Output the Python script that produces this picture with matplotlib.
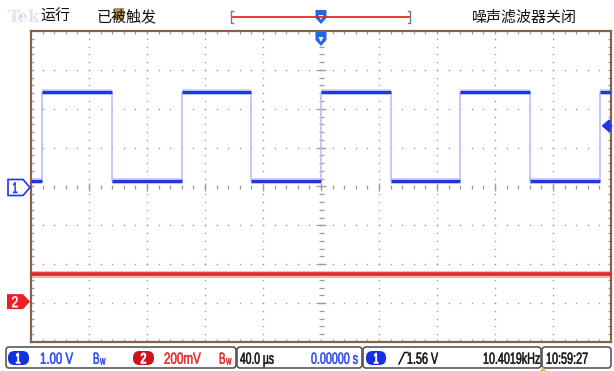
import numpy as np
import matplotlib
matplotlib.use("Agg")
import matplotlib.pyplot as plt
from matplotlib.patches import FancyBboxPatch, Polygon, Rectangle
from matplotlib.patheffects import AbstractPathEffect
from matplotlib.transforms import Affine2D

# ---- acquisition data -------------------------------------------------------
# horizontal: 40 us/div, 10 divisions, trigger at centre (t = 0)
time_per_div_us = 40.0
edge_times_us = [-192.3, -144.2, -96.1, -48.1, 0.0, 48.1, 96.1, 144.2, 192.3]
# channel 1 level of each segment between edges (V), starting before the first edge
ch1_levels_v = [0.15, 2.42, 0.15, 2.42, 0.15, 2.42, 0.15, 2.42, 0.15, 2.42]
ch1_volts_per_div = 1.00
ch1_offset_div = 0.0
# channel 2 is a flat level
ch2_level_v = 0.15
ch2_volts_per_div = 0.200
ch2_offset_div = -3.0
trigger_level_v = 1.56

# readouts
ch1_scale_txt = "1.00 V"
ch2_scale_txt = "200mV"
timebase_txt = "40.0 µs"
position_txt = "0.00000 s"
trig_txt = "1.56 V"
freq_txt = "10.4019kHz"
clock_txt = "10:59:27"
status_run = "运行"
status_trig = "已被触发"
status_filter = "噪声滤波器关闭"

W, H = 614, 371
CJK = ["Noto Sans CJK SC", "DejaVu Sans"]
READOUT = ["Liberation Sans", "DejaVu Sans"]

BLUE = "#1f35e6"
BLUE_TXT = "#2a48e8"
RED = "#e8262a"
FRAME = "#8a6246"
DOT = "#9c9c9c"

fig = plt.figure(figsize=(W / 100, H / 100), dpi=100)
fig.patch.set_facecolor("white")

# graticule axes (frame 31..611 x 31..342 px)
L, T, R, B = 31, 31, 611, 342
ax = fig.add_axes([L / W, 1 - B / H, (R - L) / W, (B - T) / H])
ax.set_xlim(-5 * time_per_div_us, 5 * time_per_div_us)
ax.set_ylim(-4, 4)
ax.set_xticks([]); ax.set_yticks([])
for s in ax.spines.values():
    s.set_color(FRAME)
    s.set_linewidth(1.6)
ax.set_facecolor("white")

# overlay for the status lines (pixel coordinates, y downwards)
ui = fig.add_axes([0, 0, 1, 1], zorder=5)
ui.set_xlim(0, W); ui.set_ylim(H, 0)
ui.axis("off")
ui.patch.set_alpha(0)


class TallGlyphs(AbstractPathEffect):
    """Stretch glyphs vertically about the baseline (display px) and embolden slightly."""

    def __init__(self, y_anchor, sy, lw=0.4):
        super().__init__()
        self._stretch = Affine2D().translate(0, -y_anchor).scale(1, sy).translate(0, y_anchor)
        self._lw = lw

    def draw_path(self, renderer, gc, tpath, affine, rgbFace=None):
        aff = affine + self._stretch
        if self._lw and rgbFace is not None:
            gc0 = renderer.new_gc()
            gc0.copy_properties(gc)
            gc0.set_linewidth(self._lw)
            gc0.set_foreground(rgbFace, isRGBA=len(rgbFace) == 4)
            renderer.draw_path(gc0, tpath, aff, rgbFace)
            gc0.restore()
        else:
            renderer.draw_path(gc, tpath, aff, rgbFace)


renderer = fig.canvas.get_renderer()
PX_PER_PT = 100 / 72
DIGIT_H = 0.716  # digit height of the readout face, in em


def readout(s, x0, x1, yc, cap, color, lw=0.4):
    """Readout text spanning x0..x1 px with digit height `cap` px, centred on yc."""
    base = yc + cap / 2
    t = ui.text(x0, base, s, fontsize=10, family=READOUT, color=color,
                ha="left", va="baseline", zorder=7)
    w10 = t.get_window_extent(renderer).width
    size = 10 * (x1 - x0) / max(w10, 1e-6)
    t.set_fontsize(size)
    sy = cap / (DIGIT_H * size * PX_PER_PT)
    y_disp = ui.transData.transform((x0, base))[1]
    t.set_path_effects([TallGlyphs(y_disp, sy, lw)])
    return t


xmin, xmax = ax.get_xlim()
minor_x = np.arange(xmin, xmax + 1e-6, time_per_div_us / 5)
minor_y = np.arange(-4, 4 + 1e-6, 0.2)

# dotted grid lines
for k in range(1, 10):
    if k == 5:
        continue
    xv = xmin + k * time_per_div_us
    ax.plot(np.full_like(minor_y[1:-1], xv), minor_y[1:-1], ls="none",
            marker="s", ms=1.0, mec="none", mfc=DOT, zorder=1)
for m in range(1, 8):
    if m == 4:
        continue
    yv = -4 + m
    ax.plot(minor_x[1:-1], np.full_like(minor_x[1:-1], yv), ls="none",
            marker="s", ms=1.0, mec="none", mfc=DOT, zorder=1)

# centre cross with tick marks
rem_x = np.mod(minor_x - xmin, time_per_div_us)
is_major_x = np.isclose(rem_x, 0) | np.isclose(rem_x, time_per_div_us)
rem_y = np.mod(minor_y + 4, 1.0)
is_major_y = np.isclose(rem_y, 0) | np.isclose(rem_y, 1.0)
ax.plot(minor_x[1:-1], np.zeros(len(minor_x) - 2), ls="none", marker="|",
        ms=3.0, mew=0.9, color=DOT, zorder=1)
ax.plot(np.zeros(len(minor_y) - 2), minor_y[1:-1], ls="none", marker="_",
        ms=3.6, mew=0.9, color=DOT, zorder=1)
ax.plot(minor_x[is_major_x][1:-1], np.zeros(is_major_x.sum() - 2), ls="none",
        marker="|", ms=6.0, mew=0.9, color=DOT, zorder=1)
ax.plot(np.zeros(is_major_y.sum() - 2), minor_y[is_major_y][1:-1], ls="none",
        marker="_", ms=6.5, mew=0.9, color=DOT, zorder=1)

# ticks along the frame edges
for yy in (4, -4):
    ax.plot(minor_x[1:-1], np.full(len(minor_x) - 2, yy), ls="none", marker="|",
            ms=4.5, mew=0.9, color=DOT, zorder=1)
for xx in (xmin, xmax):
    ax.plot(np.full(len(minor_y) - 2, xx), minor_y[1:-1], ls="none", marker="_",
            ms=5.0, mew=0.9, color=DOT, zorder=1)

# ---- channel 1 trace ----
bounds = [xmin] + edge_times_us + [xmax]
ch1_div = [v / ch1_volts_per_div + ch1_offset_div for v in ch1_levels_v]
for i, lev in enumerate(ch1_div):
    ax.hlines(lev, bounds[i], bounds[i + 1], color="#c9d0fa", lw=4.2, zorder=2)
    ax.hlines(lev, bounds[i], bounds[i + 1], color=BLUE, lw=2.3, zorder=3)
for i, t in enumerate(edge_times_us):
    lo, hi = sorted((ch1_div[i], ch1_div[i + 1]))
    ax.vlines(t, lo, hi, color="#b4bcf6", lw=1.1, zorder=2)

# ---- channel 2 trace ----
ch2_div = ch2_level_v / ch2_volts_per_div + ch2_offset_div
ax.hlines(ch2_div, xmin, xmax, color="#f6b4b4", lw=5.0, zorder=2)
ax.hlines(ch2_div, xmin, xmax, color=RED, lw=2.6, zorder=3)

# ---- trigger level arrow (right edge) ----
trig_div = trigger_level_v / ch1_volts_per_div + ch1_offset_div
ax.annotate("", xy=(xmax - 6.5, trig_div), xytext=(xmax, trig_div),
            arrowprops=dict(arrowstyle="-|>,head_length=0.4,head_width=0.35",
                            color=BLUE, lw=2.0, shrinkA=0, shrinkB=0),
            annotation_clip=False, zorder=6)

fig.canvas.draw()


def to_px(x, y):
    dx, dy = ax.transData.transform((x, y))
    return dx, H - dy


# ---- channel ground markers ----
_, g1 = to_px(0, ch1_offset_div)
g1 += 1.0
ui.add_patch(Polygon([(8, g1 - 8), (23, g1 - 8), (30, g1), (23, g1 + 8), (8, g1 + 8)],
                     closed=True, fc="white", ec=BLUE, lw=1.2))
readout("1", 12.5, 17.5, g1, 11, BLUE)
_, g2 = to_px(0, ch2_offset_div)
g2 -= 1.5
ui.add_patch(Polygon([(7, g2 - 7.5), (23, g2 - 7.5), (30, g2), (23, g2 + 7.5), (7, g2 + 7.5)],
                     closed=True, fc="#ee1c24", ec="none"))
readout("2", 11.5, 18.5, g2, 11, "white")

# ---- trigger position markers (top) ----
tx, _ = to_px(0, 0)
for y0 in (10, 32):
    ui.add_patch(Polygon([(tx - 5.5, y0), (tx + 5.5, y0), (tx + 5.5, y0 + 8),
                          (tx, y0 + 14), (tx - 5.5, y0 + 8)], closed=True,
                         fc="#2068e6", ec="none"))
    ui.add_patch(Polygon([(tx - 2.6, y0 + 5), (tx + 2.6, y0 + 5), (tx, y0 + 10)],
                         closed=True, fc="white", ec="none"))

# record-length bar
ui.plot([233, 410], [17, 17], color=RED, lw=1.3)
ui.plot([233, 231, 231, 233], [11, 11, 23, 23], color="#7a7a7a", lw=1.0)
ui.plot([408, 410, 410, 408], [11, 11, 23, 23], color="#7a7a7a", lw=1.0)

# ---- top status line ----
ui.text(8, 17, "Tek", color="#e2e2f4", fontsize=12, fontweight="bold",
        family="DejaVu Serif", va="center", ha="left")
ui.add_patch(Rectangle((19, 15), 2.5, 2.5, fc="#b89a5a", ec="none"))
ui.text(40, 17, status_run, family=CJK, fontsize=10.8, va="center", ha="left",
        color="#111111")
ui.add_patch(Rectangle((114, 8), 10, 12, fc="#b29454", ec="none"))
ui.text(97, 17, status_trig, family=CJK, fontsize=10.8, va="center", ha="left",
        color="#111111")
ui.text(472, 17, status_filter, family=CJK, fontsize=10.8, va="center", ha="left",
        color="#111111")

# ---- bottom readout boxes ----
by0, by1 = 347, 368
for x0, x1 in ((6, 236), (237, 362), (363, 541), (542, 611)):
    ui.add_patch(FancyBboxPatch((x0, by0), x1 - x0, by1 - by0,
                                boxstyle="round,pad=0,rounding_size=3",
                                fc="white", ec="#4a4a4a", lw=1.1))
ym = 358.0
cap = 11.5
ui.add_patch(FancyBboxPatch((8, 351), 21, 14, boxstyle="round,pad=0,rounding_size=6.5",
                            fc="#1430e0", ec="none", zorder=6))
readout("1", 15.5, 20.5, ym, 10.5, "white", lw=0.7)
readout(ch1_scale_txt, 40, 73, ym, cap, BLUE_TXT)
readout("B", 93, 99.5, ym, cap, BLUE_TXT)
readout("W", 100, 105.5, ym + 3.2, cap * 0.6, BLUE_TXT, lw=0.3)
ui.add_patch(FancyBboxPatch((133, 351), 21, 14, boxstyle="round,pad=0,rounding_size=6.5",
                            fc="#c8141e", ec="none", zorder=6))
readout("2", 140.5, 146.5, ym, 10.5, "white", lw=0.7)
readout(ch2_scale_txt, 164, 201, ym, cap, RED)
readout("B", 219, 225.5, ym, cap, RED)
readout("W", 226, 231.5, ym + 3.2, cap * 0.6, RED, lw=0.3)
readout(timebase_txt, 240, 274, ym, cap, "#111111")
readout(position_txt, 311, 358, ym, cap, BLUE_TXT)
ui.add_patch(FancyBboxPatch((366, 351), 20, 14, boxstyle="round,pad=0,rounding_size=6.5",
                            fc="#1430e0", ec="none", zorder=6))
readout("1", 373.5, 378.5, ym, 10.5, "white", lw=0.7)
ui.plot([399, 404.5, 408], [364, 352.5, 352.5], color="#111111", lw=1.1, zorder=7)
readout(trig_txt, 407, 438, ym, cap, "#111111")
readout(freq_txt, 483, 540, ym, cap, "#111111")
readout(clock_txt, 546, 588, ym, cap, "#111111")
ui.add_patch(Polygon([(540, 371), (546, 371), (543, 366.5)], closed=True,
                     fc="#d8c070", ec="none"))

fig.savefig("out.png", dpi=100)
